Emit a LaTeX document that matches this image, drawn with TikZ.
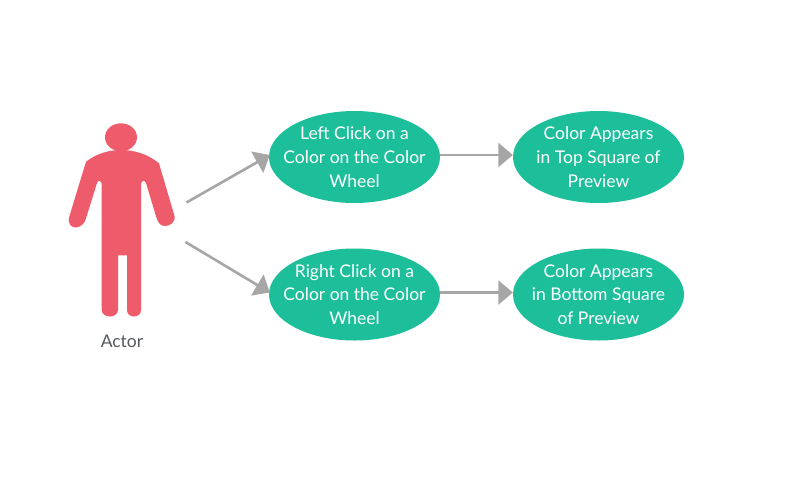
\documentclass[tikz,border=0pt]{standalone}
\usepackage{fontspec}
\setmainfont{Lato}
\usetikzlibrary{arrows.meta,shapes.geometric,calc}
\definecolor{usecase}{HTML}{1DBF9B}
\definecolor{actorred}{HTML}{EE5C6B}
\definecolor{linkgray}{HTML}{A6A6A6}
\definecolor{labelgray}{HTML}{55595C}
\tikzset{
  usecasebox/.style={ellipse,fill=usecase,text=white,minimum width=171pt,minimum height=92pt,inner xsep=-25pt,inner ysep=-15pt,align=center,font=\fontsize{17.5}{23.8}\selectfont},
  linkarrow/.style={draw=linkgray,line width=2.6pt,-{Triangle[length=14.5pt,width=24pt]}},
  actorshape/.style={fill=actorred,draw=none},
  actorlabel/.style={text=labelgray,font=\fontsize{17.5}{20}\selectfont,inner sep=0pt}
}
\begin{document}
\begin{tikzpicture}[x=1pt,y=-1pt]
\useasboundingbox (0,0) rectangle (806,496);
\fill[white] (0,0) rectangle (806,496);
% actor
\fill[actorshape] (121,137.3) ellipse [x radius=16,y radius=14];
\fill[actorshape] (121,150)
  .. controls (108,150) and (96,154) .. (86,161.7)
  -- (69.3,216.7)
  .. controls (67,224) and (72,228) .. (76,227.5)
  .. controls (81,227) and (85,223) .. (86,218.3)
  -- (97,183)
  .. controls (98,180) and (101.7,179) .. (101.7,186)
  -- (101.7,310)
  .. controls (101.7,314) and (106,316.5) .. (110,316.5)
  .. controls (114,316.5) and (118,314) .. (118,310)
  -- (118,255.3) -- (127,255.3) -- (127,310)
  .. controls (127,314) and (130,316.5) .. (134,316.5)
  .. controls (138,316.5) and (141,314) .. (141,310)
  -- (141,186)
  .. controls (141,179) and (145,180) .. (146,183)
  -- (156.7,218.3)
  .. controls (158,223) and (161,226) .. (165,226)
  .. controls (170,226) and (175.5,222) .. (174.7,216.7)
  -- (159,163.3)
  .. controls (148,154) and (134,150) .. (121,150) -- cycle;
\node[actorlabel] (actorname) at (122,341) {Actor};
\coordinate (actorup) at (186.5,202.5);
\coordinate (actordown) at (185.5,242);
% use cases
\node[usecasebox] (lc) at (354.5,157) {Left Click on a\\Color on the Color\\Wheel};
\node[usecasebox] (rc) at (354.5,294.5) {Right Click on a\\Color on the Color\\Wheel};
\node[usecasebox] (top) at (598.5,157) {Color Appears\\in Top Square of\\Preview};
\node[usecasebox] (bot) at (598.5,294.5) {Color Appears\\in Bottom Square\\of Preview};
% connectors
\draw[linkarrow] (actorup) -- ($(lc.west)+(1,-2)$);
\draw[linkarrow] (actordown) -- ($(rc.west)+(1,-2)$);
\draw[linkarrow] ($(lc.east)+(0,-2)$) -- ($(top.west)+(0,-2)$);
\draw[linkarrow] ($(rc.east)+(0,-2)$) -- ($(bot.west)+(0,-2)$);
\end{tikzpicture}
\end{document}
